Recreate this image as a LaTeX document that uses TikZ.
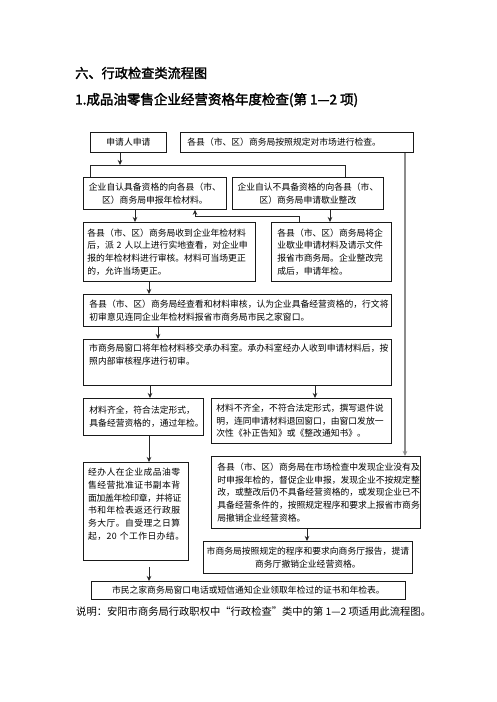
\documentclass[tikz,border=0pt]{standalone}
\usepackage{fontspec}
\setmainfont{Noto Sans CJK SC}
\newfontfamily\titlefont{Noto Sans CJK SC}[FakeBold=2]
\newfontfamily\widefont{Noto Sans CJK SC}[LetterSpace=5]
\newfontfamily\narrowfont{Noto Sans CJK SC}[LetterSpace=-4]
\usetikzlibrary{arrows.meta}
\tikzset{
 bx/.style={draw=black!90, line width=0.8pt, inner sep=0pt, anchor=north west, font=\fontsize{8.8}{12.6}\selectfont},
 arr/.style={draw=black!85, line width=0.8pt, -{Stealth[length=5pt,width=4.5pt]}},
 ln/.style={draw=black!85, line width=0.8pt},
 gln/.style={draw=black!45, line width=1.4pt, -{Stealth[length=5pt,width=4.5pt]}},
 txt/.style={inner sep=0pt, anchor=north west, font=\fontsize{8.8}{12.6}\selectfont, align=left},
 ttl/.style={anchor=west, inner sep=0pt},
}
\begin{document}
\begin{tikzpicture}[x=1pt,y=-1pt]
\fill[white] (0,0) rectangle (496,702);
\useasboundingbox (0,0) rectangle (496,702);

\node[ttl, font=\titlefont\fontsize{13.2}{15}\selectfont] (t1) at (75,73) {六、行政检查类流程图};
\node[ttl, font=\titlefont\fontsize{13.5}{15}\selectfont] (t2) at (75,100) {1.成品油零售企业经营资格年度检查(第~1—2~项)};

\node[bx, minimum width=76pt, minimum height=20pt] (a) at (90,132) {申请人申请};
\node[bx, minimum width=233pt, minimum height=20pt, text width=219pt, align=left] (top) at (180,132) {各县（市、区）商务局按照规定对市场进行检查。};

\node[bx, minimum width=143pt, minimum height=32pt, align=center] (b1) at (83,177) {企业自认具备资格的向各县（市、\\区）商务局申报年检材料。};
\node[bx, minimum width=151pt, minimum height=32pt, align=center] (b2) at (232,177) {企业自认不具备资格的向各县（市、\\区）商务局申请歇业整改};

\node[bx, minimum width=172pt, minimum height=59pt, text width=164pt, align=left] (b3) at (83,222) {各县（市、区）商务局收到企业年检材料\\后，派~2~人以上进行实地查看，对企业申\\报的年检材料进行审核。材料可当场更正\\的，允许当场更正。};
\node[bx, minimum width=120pt, minimum height=59pt, text width=108pt, align=left] (b4) at (271,222) {各县（市、区）商务局将企\\业歇业申请材料及请示文件\\报省市商务局。企业整改完\\成后，申请年检。};

\node[bx, minimum width=308pt, minimum height=32pt, text width=296pt, align=left] (b5) at (83,294) {各县（市、区）商务局经查看和材料审核，认为企业具备经营资格的，行文将\\初审意见连同企业年检材料报省市商务局市民之家窗口。};

\node[bx, minimum width=308pt, minimum height=46pt] (b6) at (83,339) {};
\node[txt, text width=296pt] (b6t) at ([xshift=6pt,yshift=-5pt]b6.north west) {市商务局窗口将年检材料移交承办科室。承办科室经办人收到申请材料后，按\\照内部审核程序进行初审。};

\node[bx, minimum width=120pt, minimum height=37pt, text width=108pt, align=left] (b7) at (83,398) {材料齐全，符合法定形式，\\具备经营资格的，通过年检。};
\node[bx, minimum width=180pt, minimum height=45pt, text width=170pt, align=left] (b8) at (211,398) {材料不齐全，不符合法定形式，撰写退件说\\明，连同申请材料退回窗口，由窗口发放一\\次性《补正告知》或《整改通知书》。};

\node[bx, minimum width=105pt, minimum height=98pt] (b9) at (83,462) {};
\node[txt, text width=98pt, font=\widefont\fontsize{8.8}{12.7}\selectfont] (b9t) at ([xshift=5pt,yshift=-6pt]b9.north west) {经办人在企业成品油零\\售经营批准证书副本背\\{\narrowfont 面加盖年检印章，并将证}\\书和年检表返还行政服\\务大厅。自受理之日算\\起，20~个工作日办结。};

\node[bx, minimum width=209pt, minimum height=72pt, text width=197pt, align=left] (b10) at (211,456) {各县（市、区）商务局在市场检查中发现企业没有及\\时申报年检的，督促企业申报，发现企业不按规定整\\改，或整改后仍不具备经营资格的，或发现企业已不\\具备经营条件的，按照规定程序和要求上报省市商务\\局撤销企业经营资格。};
\node[bx, minimum width=209pt, minimum height=32pt, align=center] (b11) at (203,541) {市商务局按照规定的程序和要求向商务厅报告，提请\\商务厅撤销企业经营资格。};

\node[bx, minimum width=314pt, minimum height=18pt, align=center] (b12) at (91,581) {市民之家商务局窗口电话或短信通知企业领取年检过的证书和年检表。};

\node[ttl, font=\fontsize{10.3}{12}\selectfont] (note) at (76,612) {说明：安阳市商务局行政职权中“行政检查”类中的第~1—2~项适用此流程图。};

% connectors
\coordinate (jl) at (90,165);
\coordinate (jr) at (345,165);
\coordinate (jb) at (195,216);
\draw[arr] ([xshift=30pt]a.south west) -- ([xshift=30pt]a.south west |- jl);
\draw[ln] (jl |- b1.north) -- (jl) -- (jr) -- (jr |- b2.north);
\draw[gln] ([xshift=225pt]top.south west) -- ([xshift=225pt]top.south west |- b10.north);
\draw[arr] ([xshift=52pt]b1.south west) -- ([xshift=52pt]b1.south west |- b3.north);
\draw[arr] ([xshift=98pt]b2.south west) -- ([xshift=98pt]b2.south west |- b4.north);
\draw[arr] ([xshift=28pt]b4.north west) |- (jb) -- (jb |- b1.south);
\draw[arr] ([xshift=66pt]b3.south west) -- ([xshift=66pt]b3.south west |- b5.north);
\draw[arr] ([xshift=75pt]b5.south west) -- ([xshift=75pt]b5.south west |- b6.north);
\draw[arr] ([xshift=67pt]b6.south west) -- ([xshift=67pt]b6.south west |- b7.north);
\draw[arr] ([xshift=232pt]b6.south west) -- ([xshift=232pt]b6.south west |- b8.north);
\draw[arr] ([xshift=66pt]b7.south west) -- ([xshift=66pt]b7.south west |- b9.north);
\draw[arr] ([xshift=96pt]b10.south west) -- ([xshift=96pt]b10.south west |- b11.north);
\draw[arr, shorten <=6pt] ([xshift=66pt]b9.south west) -- ([xshift=66pt]b9.south west |- b12.north);
\end{tikzpicture}
\end{document}
